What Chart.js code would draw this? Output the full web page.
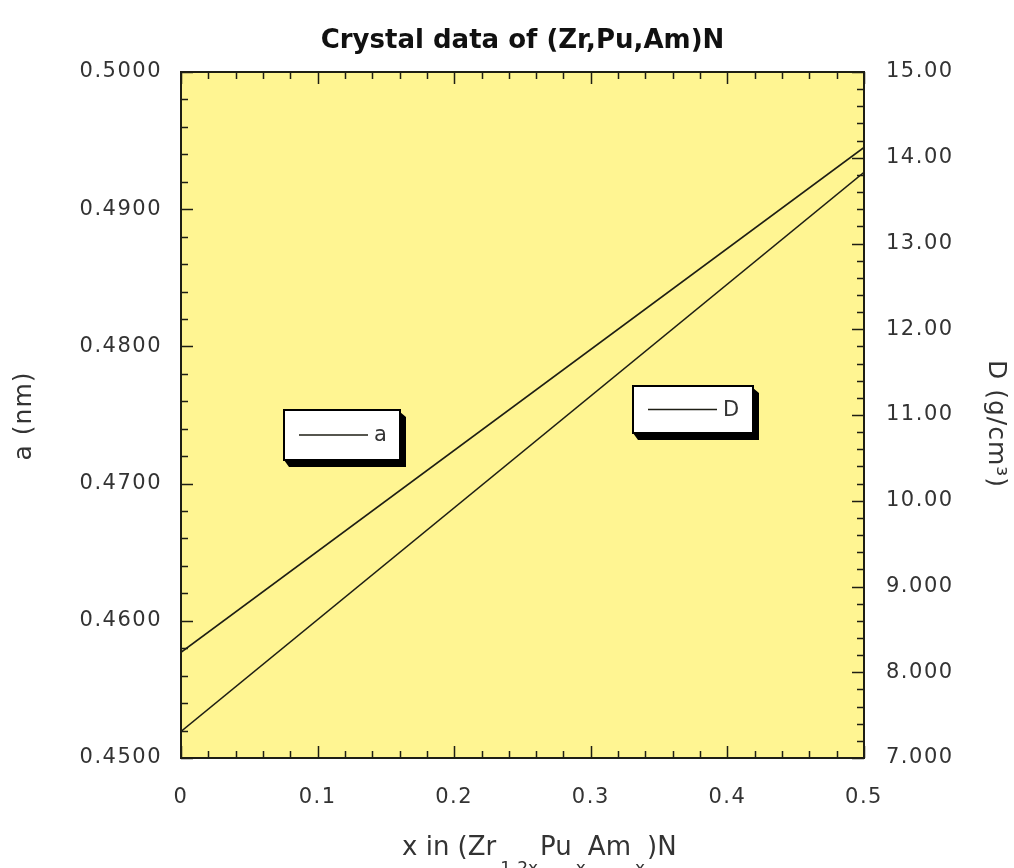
<!DOCTYPE html>
<html>
<head>
<meta charset="utf-8">
<script src="https://cdn.jsdelivr.net/npm/chart.js@4/dist/chart.umd.min.js"></script>
<style>
  body { margin: 0; background: #fff; }
  #wrap { width: 1014px; height: 868px; }
</style>
</head>
<body>
<div id="wrap"><canvas id="chart" width="1014" height="868"></canvas></div>
<script>
// values
const xValues = [0, 0.5];
const aValues = [0.4577, 0.4945];
const dValues = [7.31, 13.83];
const seriesNames = ['a', 'D'];

const chartTitle = 'Crystal data of (Zr,Pu,Am)N';
const leftTitle = 'a (nm)';
const rightTitle = 'D (g/cm\u00B3)';
// x-axis title pieces, sub = subscript
const xTitleParts = [
    { t: 'x in (Zr', sub: false },
    { t: '1-2x', sub: true },
    { t: 'Pu', sub: false },
    { t: 'x', sub: true },
    { t: 'Am', sub: false },
    { t: 'x', sub: true },
    { t: ')N', sub: false }
];

const plotBg = '#fff592';
const ink = '#1e1e14';
const txt = '#333';
const fam = '"DejaVu Sans", Verdana, sans-serif';

function pts(ys) {
    return xValues.map((x, i) => ({ x: x, y: ys[i] }));
}

// background, border, inward ticks, legends, titles
const decor = {
    id: 'decor',
    beforeDraw(chart) {
        // wider tick lettering, like the original
        chart.ctx.letterSpacing = '1.5px';
    },
    beforeDatasetsDraw(chart) {
        const c = chart.ctx, a = chart.chartArea;
        c.save();
        c.fillStyle = plotBg;
        c.fillRect(a.left, a.top, a.right - a.left, a.bottom - a.top);
        c.restore();
    },
    afterDraw(chart) {
        const c = chart.ctx, a = chart.chartArea;
        const sx = chart.scales.x, sa = chart.scales.yA, sd = chart.scales.yD;
        c.save();
        c.strokeStyle = ink;
        c.lineWidth = 1.5;
        c.beginPath();
        // x ticks bottom and top
        for (let i = 0; i <= 25; i++) {
            const px = Math.round(sx.getPixelForValue(i * 0.02)) + 0.5;
            const len = i % 5 == 0 ? 12 : 7;
            c.moveTo(px, a.bottom); c.lineTo(px, a.bottom - len);
            c.moveTo(px, a.top); c.lineTo(px, a.top + len);
        }
        // left ticks (a)
        for (let i = 0; i <= 25; i++) {
            const py = Math.round(sa.getPixelForValue(0.45 + i * 0.002)) + 0.5;
            const len = i % 5 == 0 ? 12 : 7;
            c.moveTo(a.left, py); c.lineTo(a.left + len, py);
        }
        // right ticks (D)
        for (let i = 0; i <= 40; i++) {
            const py = Math.round(sd.getPixelForValue(7 + i * 0.2)) + 0.5;
            const len = i % 5 == 0 ? 12 : 7;
            c.moveTo(a.right, py); c.lineTo(a.right - len, py);
        }
        c.stroke();
        c.lineWidth = 2;
        c.strokeRect(a.left, a.top, a.right - a.left, a.bottom - a.top);

        // legend boxes
        function legendBox(x, y, w, h, label) {
            c.fillStyle = '#000';
            c.beginPath();
            c.moveTo(x + w, y + 2);
            c.lineTo(x + w + 6, y + 7);
            c.lineTo(x + w + 6, y + h + 7);
            c.lineTo(x + 5, y + h + 7);
            c.lineTo(x, y + h);
            c.lineTo(x + w, y + h);
            c.closePath();
            c.fill();
            c.fillStyle = '#fff';
            c.fillRect(x, y, w, h);
            c.strokeStyle = '#000';
            c.lineWidth = 2;
            c.strokeRect(x, y, w, h);
            c.lineWidth = 1.5;
            c.strokeStyle = ink;
            c.beginPath();
            c.moveTo(x + 15, y + h / 2);
            c.lineTo(x + 84, y + h / 2);
            c.stroke();
            c.fillStyle = txt;
            c.font = '21px ' + fam;
            c.textAlign = 'left';
            c.textBaseline = 'middle';
            c.fillText(label, x + 90, y + h / 2 + 1);
        }
        c.letterSpacing = '0px';
        legendBox(284, 410, 116, 50, seriesNames[0]);
        legendBox(633, 386, 120, 47, seriesNames[1]);

        // chart title
        c.fillStyle = '#111';
        c.font = 'bold 26px ' + fam;
        c.textAlign = 'center';
        c.textBaseline = 'middle';
        c.fillText(chartTitle, (a.left + a.right) / 2, 41);

        // left title
        c.fillStyle = txt;
        c.font = '25px ' + fam;
        c.letterSpacing = '1px';
        c.save();
        c.translate(24, 416);
        c.rotate(-Math.PI / 2);
        c.fillText(leftTitle, 0, 0);
        c.restore();

        // right title
        c.save();
        c.translate(995, 424);
        c.rotate(Math.PI / 2);
        c.fillText(rightTitle, 0, 0);
        c.restore();

        // x title with subscripts
        c.letterSpacing = '0px';
        c.textAlign = 'left';
        c.textBaseline = 'alphabetic';
        let px = 402;
        for (const p of xTitleParts) {
            if (p.sub) {
                c.font = '17px ' + fam;
                c.fillText(p.t, px + 4, 874);
                px += c.measureText(p.t).width + 6;
            } else {
                c.font = '26px ' + fam;
                c.fillText(p.t, px, 855);
                px += c.measureText(p.t).width;
            }
        }
        c.restore();
    }
};

const tickFont = { family: fam, size: 21 };

new Chart('chart', {
    type: 'scatter',
    data: {
        datasets: [{
            label: seriesNames[0],
            data: pts(aValues),
            yAxisID: 'yA',
            showLine: true,
            borderColor: ink,
            borderWidth: 1.6,
            pointRadius: 0
        }, {
            label: seriesNames[1],
            data: pts(dValues),
            yAxisID: 'yD',
            showLine: true,
            borderColor: ink,
            borderWidth: 1.6,
            pointRadius: 0
        }]
    },
    options: {
        responsive: false,
        animation: false,
        layout: { padding: { top: 72, left: 0, right: 0, bottom: 0 } },
        plugins: {
            legend: { display: false },
            tooltip: { enabled: false }
        },
        scales: {
            x: {
                type: 'linear',
                min: 0,
                max: 0.5,
                grid: { display: false, drawTicks: false },
                border: { display: false },
                ticks: {
                    stepSize: 0.1,
                    padding: 27,
                    color: txt,
                    font: tickFont,
                    maxRotation: 0,
                    callback: function (value) {
                        return value == 0 ? '0' : value.toFixed(1);
                    }
                },
                afterFit: function (scale) { scale.height = 110; }
            },
            yA: {
                position: 'left',
                min: 0.45,
                max: 0.5,
                grid: { display: false, drawTicks: false },
                border: { display: false },
                ticks: {
                    stepSize: 0.01,
                    padding: 19,
                    color: txt,
                    font: tickFont,
                    callback: function (value) { return value.toFixed(4); }
                },
                afterFit: function (scale) { scale.width = 181; }
            },
            yD: {
                position: 'right',
                min: 7,
                max: 15,
                grid: { display: false, drawTicks: false },
                border: { display: false },
                ticks: {
                    stepSize: 1,
                    padding: 22,
                    color: txt,
                    font: tickFont,
                    callback: function (value) {
                        return value >= 10 ? value.toFixed(2) : value.toFixed(3);
                    }
                },
                afterFit: function (scale) { scale.width = 150; }
            }
        }
    },
    plugins: [decor]
});
</script>
</body>
</html>
